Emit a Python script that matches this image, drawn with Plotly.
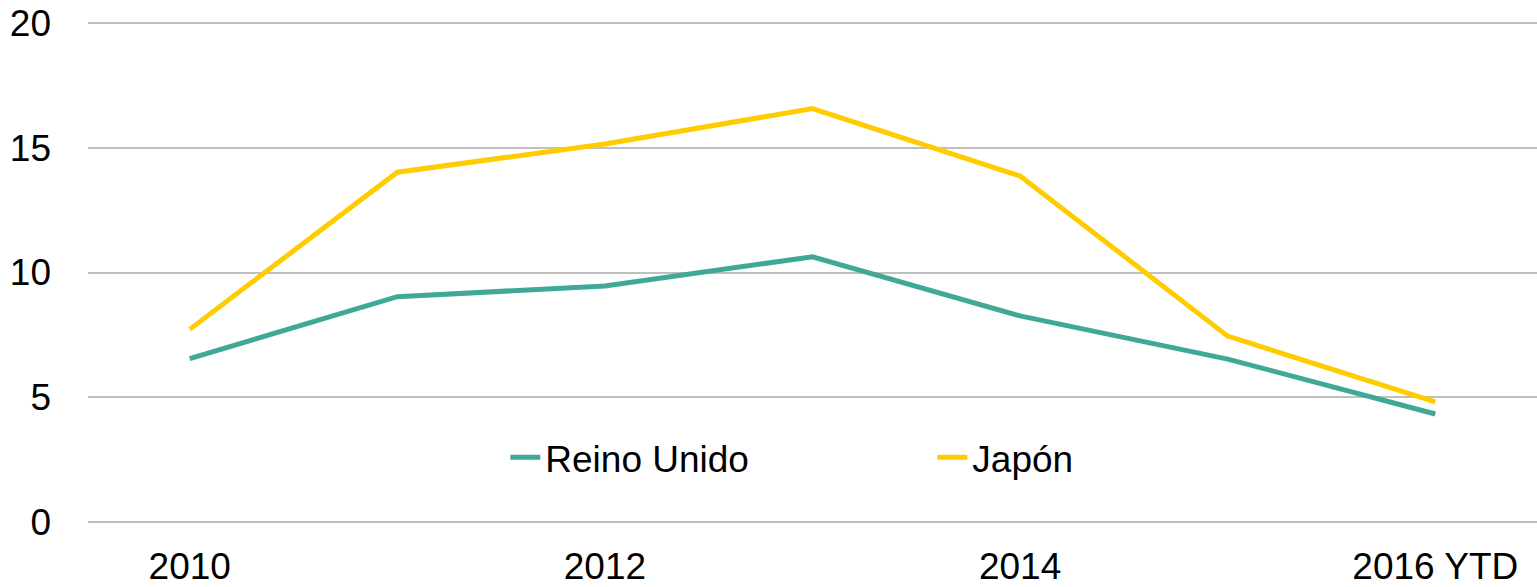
import plotly.graph_objects as go

years = ["2010", "2011", "2012", "2013", "2014", "2015", "2016 YTD"]
tick_labels = ["2010", "2012", "2014", "2016 YTD"]
reino_unido = [6.55, 9.03, 9.46, 10.63, 8.26, 6.53, 4.33]
japon = [7.72, 14.02, 15.15, 16.57, 13.87, 7.45, 4.81]

FONT = "Liberation Sans, Arial, sans-serif"

fig = go.Figure()
fig.add_trace(go.Scatter(x=years, y=reino_unido, mode="lines", name="Reino Unido",
                         line=dict(color="#40A898", width=5)))
fig.add_trace(go.Scatter(x=years, y=japon, mode="lines", name="Japón",
                         line=dict(color="#FFCC00", width=5)))

fig.update_layout(
    width=1537, height=587,
    margin=dict(l=88, r=0, t=20, b=65),
    paper_bgcolor="white", plot_bgcolor="white",
    font=dict(family=FONT, size=37, color="#000000"),
    showlegend=True,
    legend=dict(orientation="h", x=0.288, xanchor="left", y=0.128, yanchor="middle",
                font=dict(family=FONT, size=37, color="#000000"),
                entrywidth=382, entrywidthmode="pixels",
                bgcolor="rgba(0,0,0,0)"),
    xaxis=dict(type="category", range=[-0.49, 6.49], tickmode="array",
               tickvals=tick_labels, ticktext=tick_labels, showgrid=False,
               showline=False, zeroline=False, ticks="", ticklabelstandoff=19,
               automargin=False),
    yaxis=dict(range=[0, 20.12], tickvals=[0, 5, 10, 15, 20], showgrid=True,
               gridcolor="#BFBFBF", gridwidth=2, zeroline=True, zerolinecolor="#BFBFBF",
               zerolinewidth=2, showline=False, ticks="", ticklabelstandoff=36,
               automargin=False),
)

fig.write_html("out.html", config={"displayModeBar": False},
               post_script="document.body.style.margin='0';")
